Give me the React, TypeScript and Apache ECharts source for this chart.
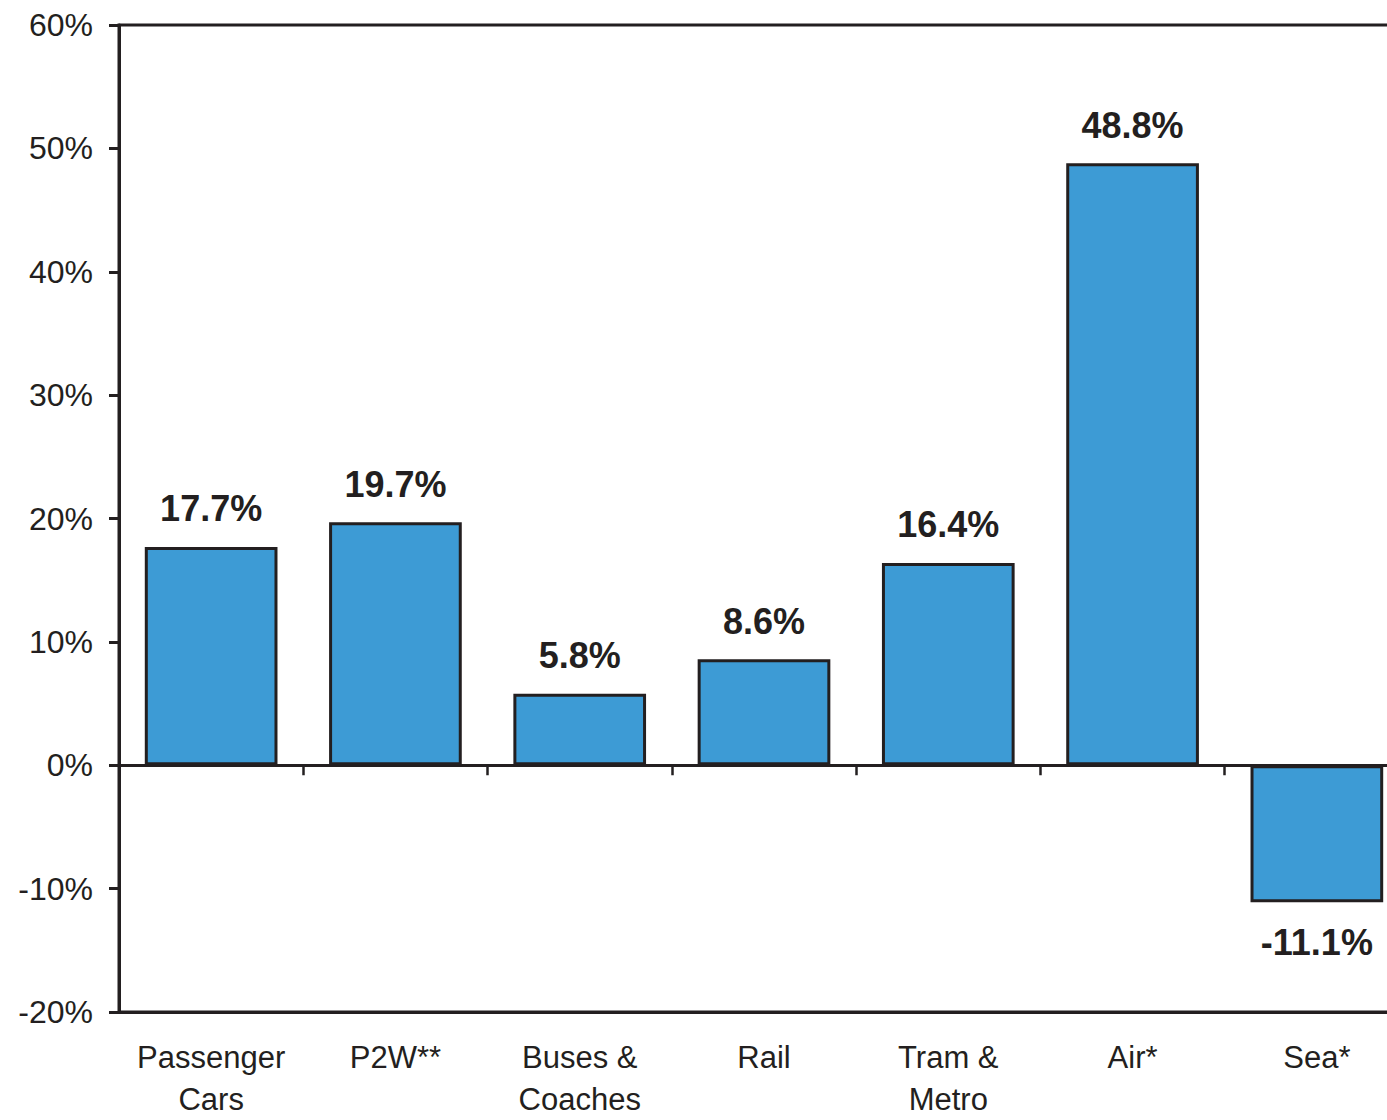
import { useEffect, useRef } from "react";
import * as echarts from "echarts";

// Growth by transport mode, in percent
const categories = [
  "Passenger\nCars",
  "P2W**",
  "Buses &\nCoaches",
  "Rail",
  "Tram &\nMetro",
  "Air*",
  "Sea*",
];
const growth = [17.7, 19.7, 5.8, 8.6, 16.4, 48.8, -11.1];
const yMin = -20;
const yMax = 60;
const yStep = 10;

const INK = "#231f20";
const BAR = "#3d9bd5";
const FONT = "'Liberation Sans', Arial, Helvetica, sans-serif";

export default function App() {
  const ref = useRef<HTMLDivElement>(null);

  useEffect(() => {
    if (!ref.current) return;
    const chart = echarts.init(ref.current, undefined, { renderer: "svg" });
    chart.setOption({
      animation: false,
      backgroundColor: "#ffffff",
      grid: {
        left: 119,
        top: 25,
        right: 11,
        bottom: 103,
        show: true,
        borderColor: INK,
        borderWidth: 3,
        backgroundColor: "transparent",
      },
      xAxis: [
        {
          type: "category",
          data: categories,
          position: "bottom",
          axisLine: { show: true, onZero: false, lineStyle: { color: INK, width: 3 } },
          axisTick: { show: false },
          axisLabel: {
            color: INK,
            fontFamily: FONT,
            fontSize: 31,
            lineHeight: 42,
            margin: 24,
            interval: 0,
          },
          splitLine: { show: false },
        },
        {
          // zero baseline with boundary ticks
          type: "category",
          data: categories,
          position: "bottom",
          axisLine: { show: true, onZero: true, lineStyle: { color: INK, width: 3 } },
          axisTick: { show: true, length: 10, lineStyle: { color: INK, width: 2.5 } },
          axisLabel: { show: false },
          splitLine: { show: false },
        },
      ],
      yAxis: {
        type: "value",
        min: yMin,
        max: yMax,
        interval: yStep,
        axisLine: { show: true, onZero: false, lineStyle: { color: INK, width: 3 } },
        axisTick: { show: true, length: 10, lineStyle: { color: INK, width: 3 } },
        axisLabel: {
          color: INK,
          fontFamily: FONT,
          fontSize: 32,
          margin: 26,
          formatter: "{value}%",
        },
        splitLine: { show: false },
      },
      series: [
        {
          type: "bar",
          xAxisIndex: 0,
          barCategoryGap: "28%",
          data: growth.map((v) => ({
            value: v,
            label: v < 0 ? { position: "bottom", distance: 22 } : { position: "top" },
          })),
          itemStyle: { color: BAR, borderColor: INK, borderWidth: 3 },
          label: {
            show: true,
            distance: 20,
            color: INK,
            fontFamily: FONT,
            fontWeight: "bold",
            fontSize: 36,
            formatter: (p: any) => `${Number(p.value).toFixed(1)}%`,
          },
        },
      ],
    });
    return () => chart.dispose();
  }, []);

  return (
    <div
      ref={ref}
      style={{ position: "fixed", left: 0, top: 0, width: 1420, height: 1120 }}
    />
  );
}
